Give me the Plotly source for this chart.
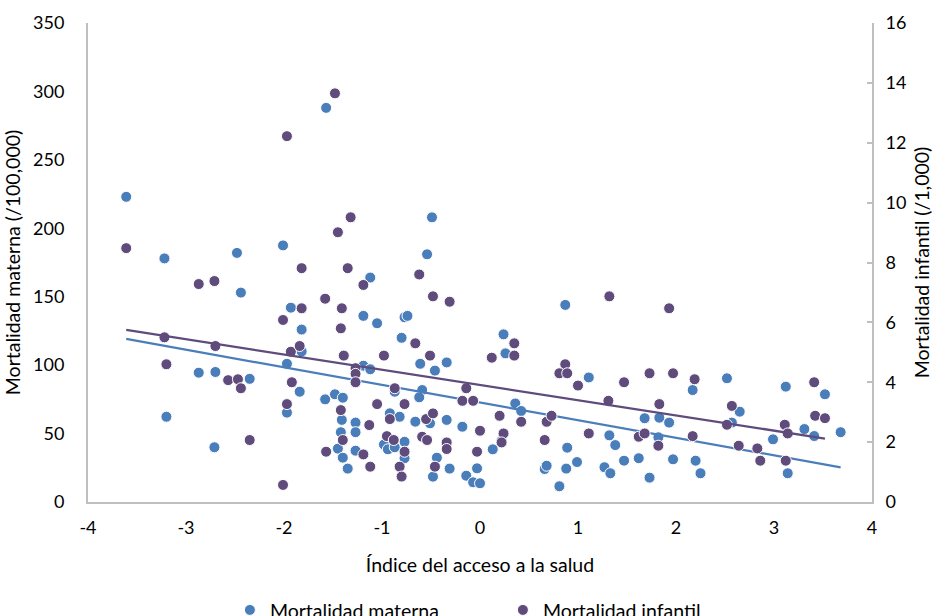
import numpy as np
import plotly.graph_objects as go

# Índice del acceso a la salud / Mortalidad materna (/100,000)
materna_x = [-1.57, -3.61, -0.49, -3.22, -2.48, -2.01, -0.54, -1.12, -2.44, -1.93,
             -1.19, -1.05, -0.77, -0.74, -1.82, -0.80, -1.82, -0.61, -0.34, -0.46,
             -1.97, -2.87, -2.70, -2.35, -1.19, -1.12, -1.84, -0.87, -0.59, -0.62,
             -1.58, -1.48, -1.40, -1.97, -3.20, -1.41, -1.27, -0.92, -0.82, -0.66,
             -0.51, -0.34, -0.18, -1.42, -1.27, -0.98, -0.94, -0.87, -0.77, -2.71,
             -1.45, -1.40, -1.27, -0.77, -0.44, -1.35, -0.31, -0.03, -0.48, -0.14,
             -0.07, 0.00, 0.87, 0.24, 0.26, 1.11, 2.17, 2.52, 3.12, 3.52,
             3.68, 3.31, 3.41, 3.14, 2.99, 2.65, 2.57, 2.20, 2.25, 1.97,
             1.68, 1.83, 1.93, 1.82, 1.62, 1.73, 1.32, 1.38, 1.47, 1.27,
             1.33, 0.99, 0.88, 0.81, 0.89, 0.66, 0.68, 0.36, 0.42, 0.22, 0.13]
materna_y = [288, 223, 208, 178, 182, 187.5, 181, 164, 153, 142,
             136, 130.6, 135, 136, 126, 120, 110, 101, 102, 96,
             101, 94.5, 95, 90, 99.6, 97, 80.6, 80.6, 81.8, 76.5,
             75, 78.7, 76.2, 65.3, 62.3, 60, 58, 64.8, 62.3, 58.7,
             57.5, 60, 55, 51, 51, 42, 38.5, 40, 44, 40,
             39, 32.4, 37.5, 32, 32.4, 24.4, 24.4, 24.6, 18.5, 19.2,
             14.4, 13.7, 144, 122.5, 108.6, 91, 81.8, 90.4, 84.3, 78.7,
             51, 53.3, 48.2, 21, 45.8, 66, 58, 30.2, 21, 31.2,
             61.2, 61.6, 58, 47.3, 32, 17.8, 48.7, 41.6, 30.2, 25.4,
             21, 29.2, 24.4, 11.5, 39.7, 24.1, 26.5, 72, 66.5, 44.8, 38.5]

# Mortalidad infantil (/1,000)
infantil_x = [-1.48, -1.97, -1.32, -1.45, -3.61, -1.82, -1.35, -0.62, -1.19, -2.87,
              -2.71, -1.58, -0.48, -0.31, -1.82, -1.41, -2.01, -1.42, -0.66, -3.22,
              -2.70, -1.93, -1.84, -1.39, -0.98, -0.51, -3.20, -2.57, -2.47, -2.44,
              -1.27, -1.27, -1.27, -1.92, -0.87, -0.14, -0.18, -0.07, -1.42, -1.97,
              -1.05, -0.77, -1.13, -0.92, -0.55, -0.48, 0.00, -1.40, -0.95, -0.88,
              -0.59, -0.54, -0.34, -0.34, -2.35, -1.57, -1.19, -0.77, -0.03, -1.12,
              -0.82, -0.46, -0.80, -2.01, 1.32, 1.93, 0.35, 0.35, 0.12, 0.87,
              0.81, 0.89, 1.00, 1.47, 1.73, 1.97, 2.19, 3.41, 3.42, 3.52,
              3.11, 3.14, 3.12, 2.83, 2.86, 2.64, 2.57, 2.52, 2.17, 1.83,
              1.62, 1.68, 1.82, 1.31, 1.11, 0.66, 0.68, 0.73, 0.42, 0.20, 0.24, 0.22]
infantil_y = [13.65, 12.22, 9.51, 9.01, 8.48, 7.81, 7.81, 7.6, 7.25, 7.28,
              7.38, 6.79, 6.87, 6.69, 6.47, 6.47, 6.08, 5.80, 5.30, 5.50,
              5.21, 5.02, 5.21, 4.89, 4.89, 4.89, 4.60, 4.07, 4.10, 3.80,
              4.47, 4.28, 4.00, 4.00, 3.80, 3.80, 3.38, 3.38, 3.07, 3.27,
              3.27, 3.27, 2.57, 2.77, 2.77, 2.96, 2.38, 2.07, 2.20, 2.07,
              2.18, 2.07, 1.99, 1.77, 2.07, 1.68, 1.59, 1.68, 1.68, 1.18,
              1.18, 1.18, 0.85, 0.57, 6.87, 6.47, 5.30, 4.89, 4.82, 4.60,
              4.30, 4.30, 3.89, 4.00, 4.30, 4.30, 4.10, 4.00, 2.88, 2.80,
              2.58, 2.29, 1.38, 1.79, 1.38, 1.88, 3.21, 2.58, 2.20, 3.27,
              2.18, 2.29, 1.88, 3.38, 2.29, 2.07, 2.68, 2.88, 2.68, 2.88, 2.29, 1.99]

x_ticks = [-4, -3, -2, -1, 0, 1, 2, 3, 4]
y1_ticks = [0, 50, 100, 150, 200, 250, 300, 350]
y2_ticks = [0, 2, 4, 6, 8, 10, 12, 14, 16]

BLUE = "#4A7EBB"
PURPLE = "#5F4B7C"
AXIS = "#BFBFBF"
FONT = "Lato"

fig = go.Figure()

fig.add_trace(go.Scatter(
    x=materna_x, y=materna_y, mode="markers", name="Mortalidad materna",
    marker=dict(color=BLUE, size=11, line=dict(color="white", width=1)),
    yaxis="y"))
fig.add_trace(go.Scatter(
    x=infantil_x, y=infantil_y, mode="markers", name="Mortalidad infantil",
    marker=dict(color=PURPLE, size=11, line=dict(color="white", width=1)),
    yaxis="y2"))

# Linear trend lines computed from the data
for xs, ys, col, ax in [(materna_x, materna_y, BLUE, "y"),
                        (infantil_x, infantil_y, PURPLE, "y2")]:
    m, b = np.polyfit(xs, ys, 1)
    lx = np.array([min(xs), max(xs)])
    fig.add_trace(go.Scatter(x=lx, y=m * lx + b, mode="lines",
                             line=dict(color=col, width=2.25),
                             showlegend=False, hoverinfo="skip", yaxis=ax))

tickfont = dict(family=FONT, size=18, color="#000000")
titlefont = dict(family=FONT, size=19.5, color="#000000")

fig.update_layout(
    width=939, height=616,
    margin=dict(l=88, r=67, t=23, b=114, autoexpand=False),
    paper_bgcolor="white", plot_bgcolor="white",
    font=dict(family=FONT, size=18, color="#000000"),
    xaxis=dict(range=[-4, 4], tickvals=x_ticks, ticktext=[str(v) for v in x_ticks],
               showgrid=False, zeroline=False, showline=True, linecolor=AXIS,
               linewidth=2, ticks="", tickfont=tickfont, ticklabelstandoff=8,
               automargin=False,
               title=dict(text="Índice del acceso a la salud", font=titlefont, standoff=22)),
    yaxis=dict(range=[0, 350], tickvals=y1_ticks, showgrid=False, zeroline=False,
               showline=True, linecolor=AXIS, linewidth=2, ticks="",
               tickfont=tickfont, ticklabelstandoff=18, automargin=False,
               title=dict(text="Mortalidad materna (/100,000)", font=titlefont, standoff=7)),
    yaxis2=dict(range=[0, 16], tickvals=y2_ticks, overlaying="y", side="right",
                showgrid=False, zeroline=False, showline=True, linecolor=AXIS,
                linewidth=2, ticks="inside", ticklen=5, tickcolor=AXIS, tickwidth=2,
                tickfont=tickfont, ticklabelstandoff=8, automargin=False,
                title=dict(text="Mortalidad infantil (/1,000)", font=titlefont, standoff=10)),
    legend=dict(orientation="h", x=0.181, xanchor="left",
                yref="container", y=0.041, yanchor="top",
                font=dict(family=FONT, size=19.5, color="#000000"),
                entrywidth=228, itemwidth=30),
    showlegend=True,
)

fig.write_html("out.html")
